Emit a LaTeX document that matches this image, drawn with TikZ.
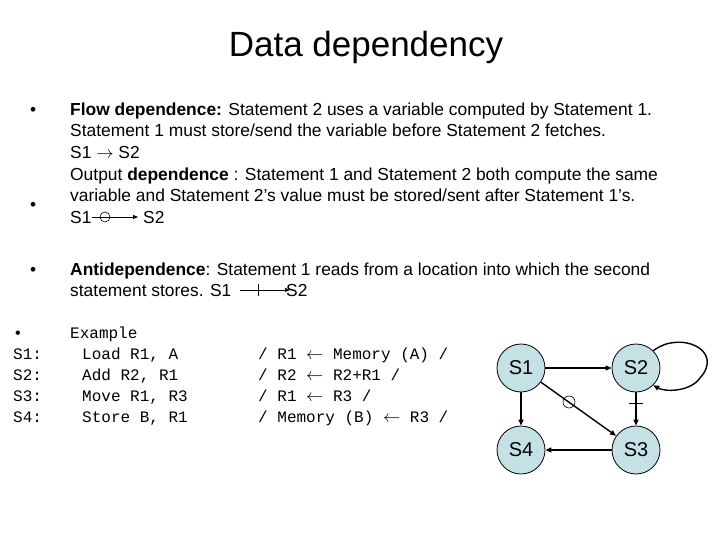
\documentclass[tikz,border=0pt]{standalone}
\usepackage{fontspec}
\setmainfont{Liberation Sans}
\newfontfamily\mono{Liberation Mono}
\usetikzlibrary{arrows.meta}
\definecolor{nodefill}{RGB}{196,226,230}
\begin{document}
\begin{tikzpicture}[x=1pt,y=-1pt,
  txt/.style={anchor=base west,inner sep=0,font=\fontsize{17.4}{20}\selectfont},
  code/.style={anchor=base west,inner sep=0,font=\mono\fontsize{16}{18}\selectfont},
  st/.style={circle,draw=black,thick,fill=nodefill,minimum size=48pt,inner sep=0,font=\fontsize{20}{24}\selectfont},
  arr/.style={-{Triangle[length=6pt,width=5pt]},line width=1.4pt},
  sarr/.style={-{Triangle[length=5pt,width=4pt]},line width=0.8pt}]
\useasboundingbox (0,0) rectangle (720,540);
\node[anchor=base,inner sep=0,font=\fontsize{35}{40}\selectfont] (title) at (366,57) {Data dependency};
\node[txt] (b1) at (30,116) {•};
\node[txt] (l1) at (70,116) {\textbf{Flow dependence:} Statement 2 uses a variable computed by Statement 1.};
\node[txt] (l2) at (70,137) {Statement 1 must store/send the variable before Statement 2 fetches.};
\node[txt] (l3) at (70,159) {S1 $\rightarrow$ S2};
\node[txt] (b2) at (30,211) {•};
\node[txt] (l4) at (70,181) {Output \textbf{dependence} : Statement 1 and Statement 2 both compute the same};
\node[txt] (l5) at (70,202) {variable and Statement 2's value must be stored/sent after Statement 1's.};
\node[txt] (l6a) at (70,223) {S1};
\node[txt] (l6b) at (143,223) {S2};
\coordinate (oa) at (92,217); \coordinate (ob) at (138,217);
\draw[sarr] (oa) -- (ob);
\draw[line width=0.6pt] (105,217) circle (5);
\node[txt] (b3) at (30,275) {•};
\node[txt] (l7) at (70,275) {\textbf{Antidependence}: Statement 1 reads from a location into which the second};
\node[txt] (l8) at (70,296) {statement stores. S1};
\node[txt] (l8b) at (286,296) {S2};
\coordinate (aa) at (240,290); \coordinate (ab) at (290,290);
\draw[sarr] (aa) -- (ab);
\draw[line width=0.8pt] (258,284) -- (258,296);
\node[code] (c0) at (13,338) {•};
\node[code] (c0b) at (70,338) {Example};
\node[code] (c1) at (13,359) {S1:};
\node[code] (c2) at (13,380) {S2:};
\node[code] (c3) at (13,401) {S3:};
\node[code] (c4) at (13,422) {S4:};
\node[code] (e1) at (82,359) {Load R1, A};
\node[code] (e2) at (82,380) {Add R2, R1};
\node[code] (e3) at (82,401) {Move R1, R3};
\node[code] (e4) at (82,422) {Store B, R1};
\node[code] (d1) at (258,359) {/ R1 $\leftarrow$ Memory (A) /};
\node[code] (d2) at (258,380) {/ R2 $\leftarrow$ R2+R1 /};
\node[code] (d3) at (258,401) {/ R1 $\leftarrow$ R3 /};
\node[code] (d4) at (258,422) {/ Memory (B) $\leftarrow$ R3 /};
\node[st] (s1) at (521,368) {S1};
\node[st] (s2) at (636,368) {S2};
\node[st] (s4) at (521,450) {S4};
\node[st] (s3) at (636,450) {S3};
\draw[arr] (s1) -- (s2);
\draw[arr] (s1) -- (s4);
\draw[arr] (s1) -- (s3);
\draw[arr] (s2) -- (s3);
\draw[arr] (s3) -- (s4);
\draw[arr] (s2.north east) .. controls (680,330) and (725,350) .. (700,378) .. controls (690,392) and (665,392) .. (s2.south east);
\draw[line width=0.6pt] (569,402) circle (6);
\draw[line width=0.8pt] (629,403) -- (643,403);
\end{tikzpicture}
\end{document}
